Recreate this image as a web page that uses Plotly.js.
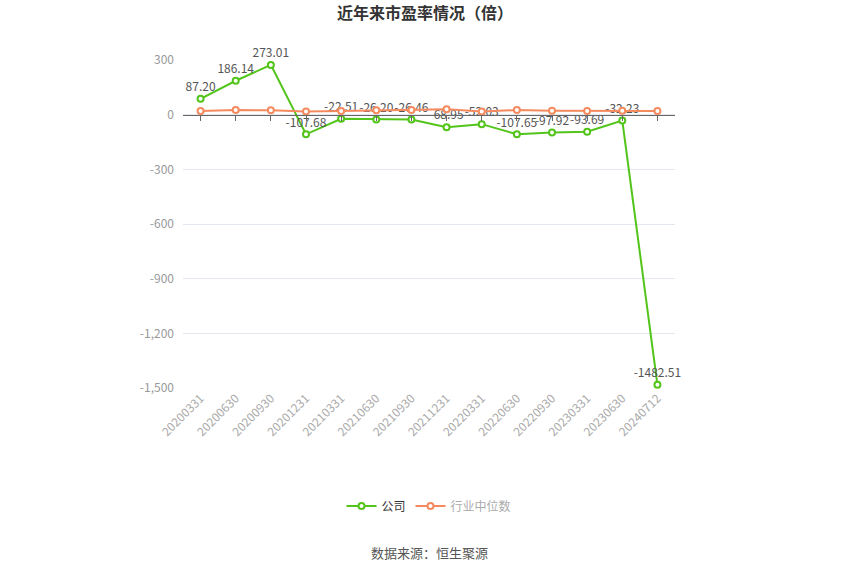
<!DOCTYPE html>
<html>
<head>
<meta charset="utf-8">
<script src="https://cdn.plot.ly/plotly-3.0.1.min.js"></script>
<style>
  body { margin: 0; background: #fff; }
  #chart { width: 850px; height: 575px; }
</style>
</head>
<body>
<div id="chart"></div>
<script>
const dates = ['20200331', '20200630', '20200930', '20201231', '20210331', '20210630', '20210930',
               '20211231', '20220331', '20220630', '20220930', '20230331', '20230630', '20240712'];
const company = [87.20, 186.14, 273.01, -107.68, -22.51, -26.20, -26.46,
                 -68.95, -52.03, -107.65, -97.92, -93.69, -32.23, -1482.51];
const industry = [20, 25, 24, 18, 20, 24, 26, 30, 18, 25, 22, 20, 22, 20];
const yTicks = [-1500, -1200, -900, -600, -300, 0, 300];

const green = '#52c41a';
const orange = '#f58a5e';

// plain hyphen minus and thousands comma, like the original
function fmt(v) {
    return (v < 0 ? '-' : '') + Math.abs(v).toLocaleString('en-US');
}

let chart = document.getElementById('chart');
Plotly.newPlot(chart, [{
    x: dates,
    y: company,
    name: '公司',
    type: 'scatter',
    mode: 'lines+markers+text',
    text: company.map(v => v.toFixed(2)),
    textposition: 'top center',
    textfont: { size: 12, color: '#555' },
    line: { color: green, width: 2 },
    marker: { size: 6, color: '#fff', line: { color: green, width: 2 } },
    cliponaxis: false
}, {
    x: dates,
    y: industry,
    name: '<span style="color:#aaa">行业中位数</span>',
    type: 'scatter',
    mode: 'lines+markers',
    line: { color: orange, width: 2 },
    marker: { size: 6, color: '#fff', line: { color: orange, width: 2 } }
}, {
    // axis line along y = 0 with tick marks
    x: dates,
    y: company.map(() => null),
    xaxis: 'x2',
    showlegend: false,
    hoverinfo: 'skip'
}], {
    width: 850,
    height: 575,
    margin: { l: 183, r: 175, t: 60, b: 187 },
    paper_bgcolor: '#fff',
    plot_bgcolor: '#fff',
    font: { family: 'Noto Sans CJK SC, sans-serif', size: 12, color: '#333' },
    title: {
        text: '<b>近年来市盈率情况（倍）</b>',
        x: 0.5, y: 0.977, yanchor: 'middle',
        font: { size: 16, color: '#333' }
    },
    xaxis: {
        type: 'category',
        tickangle: -45,
        tickfont: { size: 12, color: '#aaa' },
        showgrid: false,
        showline: false,
        ticks: '',
        range: [-0.5, 13.5],
        fixedrange: true
    },
    xaxis2: {
        type: 'category',
        overlaying: 'x',
        anchor: 'free',
        position: 1500 / 1800,
        side: 'bottom',
        showticklabels: false,
        showgrid: false,
        showline: true,
        linecolor: '#666',
        linewidth: 1,
        ticks: 'outside',
        ticklen: 5,
        tickcolor: '#666',
        range: [-0.5, 13.5],
        matches: 'x'
    },
    yaxis: {
        range: [-1500, 300],
        tickmode: 'array',
        tickvals: yTicks,
        ticktext: yTicks.map(fmt),
        tickfont: { size: 12, color: '#999' },
        gridcolor: '#e3e7ef',
        zeroline: false,
        showline: false,
        ticks: '',
        ticklabelstandoff: 8
    },
    legend: {
        orientation: 'h',
        x: 0.5, xanchor: 'center',
        y: -0.36, yanchor: 'middle',
        font: { size: 12, color: '#333' },
        itemwidth: 30
    },
    annotations: [{
        text: '数据来源：恒生聚源',
        xref: 'paper', yref: 'paper',
        x: 0.5, y: -0.5, yanchor: 'middle',
        showarrow: false,
        font: { size: 13, color: '#555' }
    }],
    showlegend: true
}, { displayModeBar: false });
</script>
</body>
</html>
